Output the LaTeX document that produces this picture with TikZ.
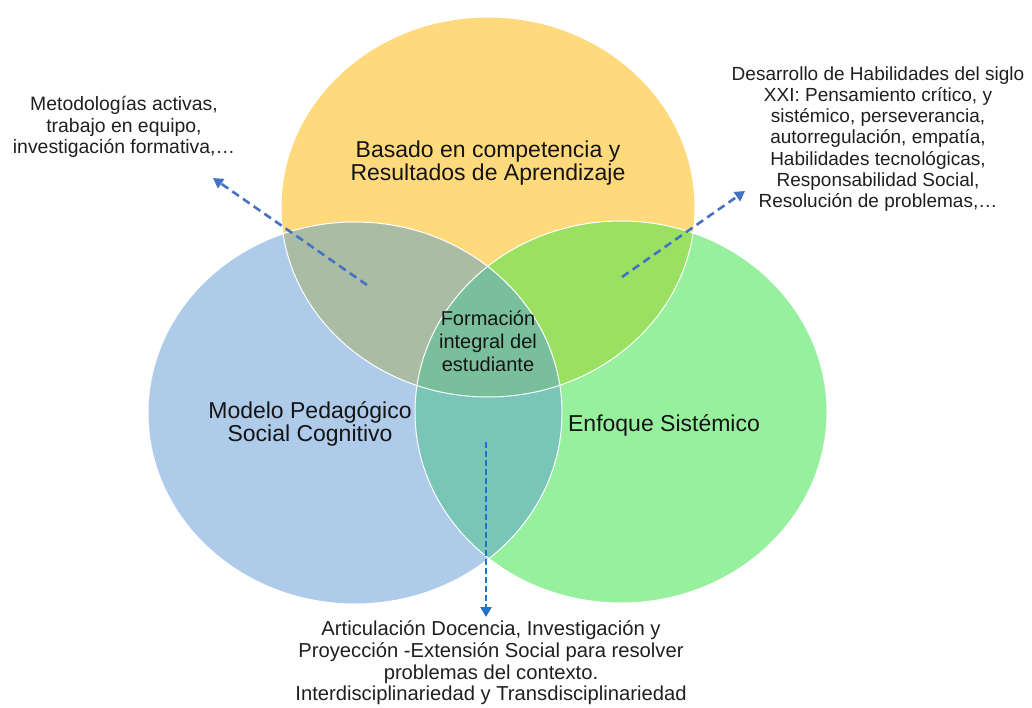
\documentclass[tikz,border=0pt]{standalone}
\usepackage{fontspec}
\setmainfont{Liberation Sans}
\usetikzlibrary{arrows.meta}
\definecolor{amarillo}{HTML}{FFDA7C}
\definecolor{celeste}{HTML}{AECBEA}
\definecolor{verde}{HTML}{97F09D}
\definecolor{amcel}{HTML}{ABBCA5}
\definecolor{amver}{HTML}{9AE161}
\definecolor{celver}{HTML}{79C5B8}
\definecolor{centro}{HTML}{7ABF9C}
\definecolor{azul}{HTML}{4472C4}
\definecolor{azulb}{HTML}{1F74C8}
\begin{document}
\begin{tikzpicture}[x=1pt,y=-1pt,
    etiq/.style={align=center,font=\fontsize{23}{22.5}\selectfont,text=black!92},
    nota/.style={align=center,font=\fontsize{19.4}{21.3}\selectfont,text=black!88},
    flecha/.style={draw=azul,line width=2.6pt,dash pattern=on 8pt off 5pt,-{Triangle[length=10pt,width=11pt]}}]
    \useasboundingbox (0,0) rectangle (1032,708);
    \def\circA{(488,207) ellipse [x radius=207pt, y radius=190pt]}
    \def\circB{(355,413) ellipse [x radius=207pt, y radius=191pt]}
    \def\circC{(621,412) ellipse [x radius=206pt, y radius=191pt]}
    \fill [amarillo] \circA;
    \fill [celeste] \circB;
    \fill [verde] \circC;
    \begin{scope}
        \clip \circA;
        \fill [amcel] \circB;
        \fill [amver] \circC;
    \end{scope}
    \begin{scope}
        \clip \circB;
        \fill [celver] \circC;
        \clip \circC;
        \fill [centro] \circA;
    \end{scope}
    \draw [white,line width=1pt] \circA \circB \circC;%bordes blancos
    % textos
    \node [etiq] (basado) at (488,163) {Basado en competencia y\\Resultados de Aprendizaje};
    \node [etiq] (modelo) at (310,424) {Modelo Pedagógico\\Social Cognitivo};
    \node [etiq] (enfoque) at (664,425) {Enfoque Sistémico};
    \node [align=center,font=\fontsize{20}{23}\selectfont,text=black!92] (formacion) at (488,341) {Formación\\integral del\\estudiante};
    \node [nota] (metodo) at (124,127) {Metodologías activas,\\trabajo en equipo,\\investigación formativa,…};
    \node [nota,font=\fontsize{19}{21.3}\selectfont] (habil) at (878,139) {Desarrollo de Habilidades del siglo\\XXI: Pensamiento crítico, y\\sistémico, perseverancia,\\autorregulación, empatía,\\Habilidades tecnológicas,\\Responsabilidad Social,\\Resolución de problemas,…};
    \node [nota,font=\fontsize{20.2}{21.7}\selectfont] (artic) at (491,663) {Articulación Docencia, Investigación y\\Proyección -Extensión Social para resolver\\problemas del contexto.\\Interdisciplinariedad y Transdisciplinariedad};
    % flechas
    \coordinate (p1) at (367,285);
    \coordinate (q1) at (213,178);
    \coordinate (p2) at (622,277);
    \coordinate (q2) at (745,191);
    \coordinate (p3) at (486,442);
    \coordinate (q3) at (486,617);
    \draw [flecha] (p1) -- (q1);
    \draw [flecha] (p2) -- (q2);
    \draw [flecha,draw=azulb,dash pattern=on 6pt off 3pt] (p3) -- (q3);
\end{tikzpicture}
\end{document}
